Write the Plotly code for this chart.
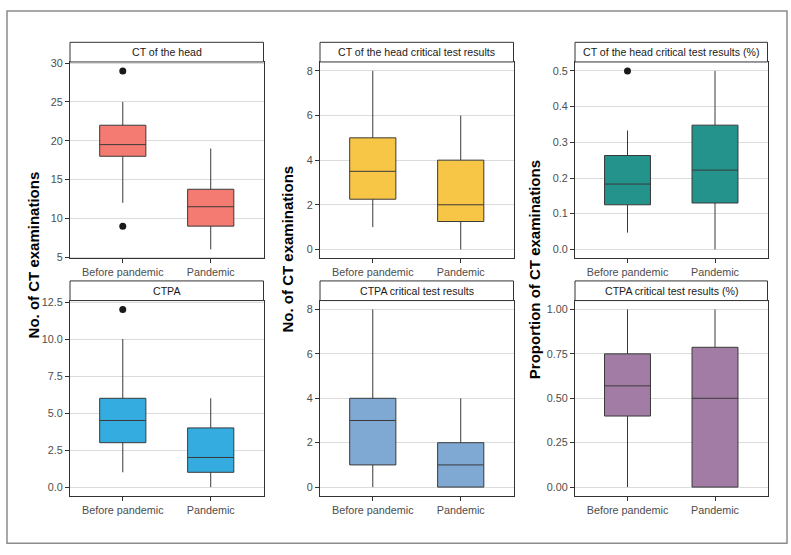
import plotly.graph_objects as go

# ---------------- data ----------------
categories = ["Before pandemic", "Pandemic"]

titles = [
    "CT of the head",
    "CT of the head critical test results",
    "CT of the head critical test results (%)",
    "CTPA",
    "CTPA critical test results",
    "CTPA critical test results (%)",
]

lower_whisker = [[12, 6], [1, 0], [0.047, 0.0], [1, 0], [0, 0], [0.0, 0.0]]
q1_values = [[18, 9], [2.25, 1.25], [0.125, 0.13], [3, 1], [1, 0], [0.40, 0.0]]
median_values = [[19.5, 11.5], [3.5, 2], [0.183, 0.222], [4.5, 2], [3, 1], [0.57, 0.5]]
q3_values = [[22, 13.75], [5, 4], [0.263, 0.348], [6, 4], [4, 2], [0.75, 0.787]]
upper_whisker = [[25, 19], [8, 6], [0.333, 0.5], [10, 6], [8, 4], [1.0, 1.0]]

outlier_x = [["Before pandemic", "Before pandemic"], [], ["Before pandemic"], ["Before pandemic"], [], []]
outlier_y = [[29, 9], [], [0.5], [12], [], []]

y_ticks = [
    [5, 10, 15, 20, 25, 30],
    [0, 2, 4, 6, 8],
    [0.0, 0.1, 0.2, 0.3, 0.4, 0.5],
    [0.0, 2.5, 5.0, 7.5, 10.0, 12.5],
    [0, 2, 4, 6, 8],
    [0.0, 0.25, 0.5, 0.75, 1.0],
]
y_tickformat = ["d", "d", ".1f", ".1f", "d", ".2f"]

colors = ["#F47B71", "#F8C646", "#23938C", "#35ACDF", "#7FA8D3", "#A27CA5"]

y_titles = ["No. of CT examinations", "No. of CT examinations", "Proportion of CT examinations"]

# ---------------- layout geometry (pixels) ----------------
W, H = 791, 555
col_x = [(70, 263.5), (320, 513.5), (575, 767.5)]
row_y = [(38, 58, 258), (281, 301, 500)]  # strip top, strip bottom/plot top, plot bottom

FONT = "Liberation Sans, Arial, Helvetica, sans-serif"


def fx(px):
    return px / W


def fy(py):
    return 1 - py / H


fig = go.Figure()
shapes = []
annotations = []

for i in range(6):
    r, c = divmod(i, 3)
    n = i + 1
    xa = "x" if n == 1 else f"x{n}"
    ya = "y" if n == 1 else f"y{n}"

    fig.add_trace(go.Box(
        x=categories,
        q1=q1_values[i], median=median_values[i], q3=q3_values[i],
        lowerfence=lower_whisker[i], upperfence=upper_whisker[i],
        fillcolor=colors[i],
        line=dict(color="#3A3A3A", width=1),
        whiskerwidth=0,
        boxpoints=False,
        showlegend=False,
        xaxis=xa, yaxis=ya,
    ))
    if outlier_y[i]:
        fig.add_trace(go.Scatter(
            x=outlier_x[i], y=outlier_y[i], mode="markers",
            marker=dict(color="#1a1a1a", size=7),
            showlegend=False, xaxis=xa, yaxis=ya,
        ))

    all_vals = lower_whisker[i] + upper_whisker[i] + outlier_y[i]
    lo, hi = min(all_vals), max(all_vals)
    pad = (hi - lo) * 0.05

    x0, x1 = col_x[c]
    st, pt, pb = row_y[r]

    axis_common = dict(
        showline=True, mirror=True, linecolor="#333333", linewidth=1,
        ticks="outside", ticklen=4, tickcolor="#333333",
        tickfont=dict(family=FONT, size=10.8, color="#4D4D4D"),
        zeroline=False,
    )
    fig.layout[f"xaxis{'' if n == 1 else n}"] = dict(
        domain=[fx(x0), fx(x1)], anchor=ya,
        type="category", categoryorder="array", categoryarray=categories,
        range=[-0.6, 1.6], showgrid=False, **axis_common,
    )
    fig.layout[f"yaxis{'' if n == 1 else n}"] = dict(
        domain=[fy(pb), fy(pt)], anchor=xa,
        range=[lo - pad, hi + pad], tickvals=y_ticks[i], tickformat=y_tickformat[i],
        showgrid=True, gridcolor="#DCDCDC", gridwidth=1, **axis_common,
    )

    # strip
    shapes.append(dict(type="rect", xref="paper", yref="paper",
                       x0=fx(x0), x1=fx(x1), y0=fy(pt), y1=fy(st),
                       fillcolor="white", line=dict(color="#333333", width=1)))
    annotations.append(dict(text=titles[i], xref="paper", yref="paper",
                            x=fx((x0 + x1) / 2), y=fy((st + pt) / 2),
                            showarrow=False, xanchor="center", yanchor="middle",
                            font=dict(family=FONT, size=10.6, color="#1A1A1A")))

# y-axis titles
title_x = [33, 288, 534]
title_y = [255, 249, 270]
for c in range(3):
    annotations.append(dict(text="<b>" + y_titles[c] + "</b>", xref="paper", yref="paper",
                            x=fx(title_x[c]), y=fy(title_y[c]), textangle=-90,
                            showarrow=False, xanchor="center", yanchor="middle",
                            font=dict(family=FONT, size=15, color="#000000")))

# outer frame
shapes.append(dict(type="rect", xref="paper", yref="paper",
                   x0=fx(7), x1=fx(787), y0=fy(548), y1=fy(6),
                   fillcolor="rgba(0,0,0,0)", line=dict(color="#8C8C8C", width=1.5),
                   layer="below"))

fig.update_layout(
    width=W, height=H,
    margin=dict(l=0, r=0, t=0, b=0),
    paper_bgcolor="white", plot_bgcolor="white",
    shapes=shapes, annotations=annotations,
    boxgap=0.25, showlegend=False,
    font=dict(family=FONT),
)

fig.write_html("out.html", config={"displayModeBar": False},
               post_script="document.body.style.margin='0px';")
